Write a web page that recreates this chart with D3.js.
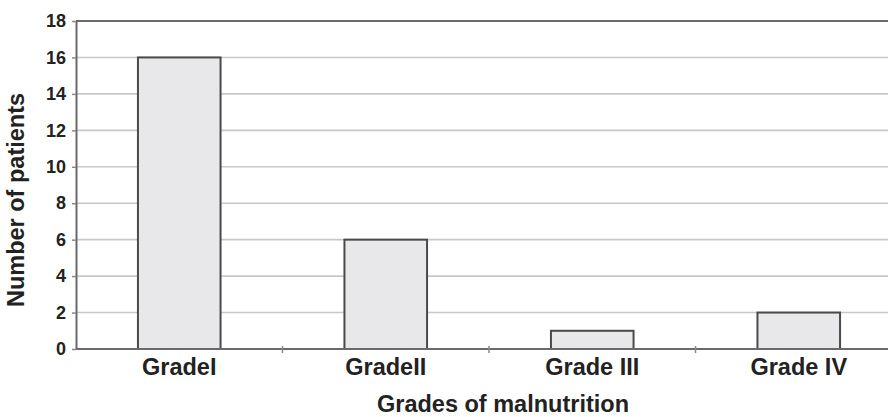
<!DOCTYPE html>
<html>
<head>
<meta charset="utf-8">
<script src="https://cdn.jsdelivr.net/npm/d3@7"></script>
<style>
  body { margin: 0; background: #fff; }
  text { font-family: "Liberation Sans", Arial, sans-serif; font-weight: bold; fill: #222; }
</style>
</head>
<body>
<svg id="chart"></svg>
<script>
let width = 888;
let height = 417;
let margin = {top: 21, right: -14, bottom: 68, left: 76};

// data
const grades = ['GradeI', 'GradeII', 'Grade III', 'Grade IV'];
const patients = [16, 6, 1, 2];
const yTicks = [0, 2, 4, 6, 8, 10, 12, 14, 16, 18];

let svg = d3.select('#chart')
  .attr('width', width)
  .attr('height', height);

let x = d3.scaleBand()
  .domain(grades)
  .range([margin.left, width - margin.right])
  .paddingInner(0.6)
  .paddingOuter(0.3);

let y = d3.scaleLinear()
  .domain([0, 18])
  .range([height - margin.bottom, margin.top]);

// gridlines
svg.append('g')
  .selectAll('line')
  .data(yTicks.slice(1, -1))
  .enter()
  .append('line')
    .attr('x1', margin.left)
    .attr('x2', width - margin.right)
    .attr('y1', d => y(d))
    .attr('y2', d => y(d))
    .attr('stroke', '#c8c8c8')
    .attr('stroke-width', 1.6);

// top border
svg.append('line')
  .attr('x1', margin.left)
  .attr('x2', width - margin.right)
  .attr('y1', y(18))
  .attr('y2', y(18))
  .attr('stroke', '#6a6a6a')
  .attr('stroke-width', 2);

// bars
svg.append('g')
  .selectAll('rect')
  .data(patients)
  .enter()
  .append('rect')
    .attr('x', (d, i) => x(grades[i]))
    .attr('y', d => y(d))
    .attr('width', x.bandwidth())
    .attr('height', d => y(0) - y(d))
    .attr('fill', '#e8e8ea')
    .attr('stroke', '#4a4a4a')
    .attr('stroke-width', 2);

// y axis
let yAxis = svg.append('g')
  .attr('transform', `translate(${margin.left},0)`)
  .call(d3.axisLeft(y).tickValues(yTicks).tickSize(4).tickPadding(6).tickSizeOuter(0));
yAxis.select('.domain').attr('stroke', '#6a6a6a').attr('stroke-width', 2);
yAxis.selectAll('.tick line').attr('stroke', '#888').attr('stroke-width', 1.5);
yAxis.selectAll('.tick text')
  .attr('font-size', 18)
  .attr('font-family', '"Liberation Sans", Arial, sans-serif')
  .attr('font-weight', 'bold')
  .attr('fill', '#222');

// x axis: ticks sit between categories
let xAxis = svg.append('g')
  .attr('transform', `translate(0,${y(0)})`);
xAxis.append('line')
  .attr('x1', margin.left)
  .attr('x2', width - margin.right)
  .attr('stroke', '#6a6a6a')
  .attr('stroke-width', 2);
xAxis.selectAll('.sep')
  .data(grades.slice(1))
  .enter()
  .append('line')
    .attr('class', 'sep')
    .attr('x1', d => x(d) - x.step() * x.paddingOuter())
    .attr('x2', d => x(d) - x.step() * x.paddingOuter())
    .attr('y1', -3)
    .attr('y2', 4)
    .attr('stroke', '#888')
    .attr('stroke-width', 1.5);
xAxis.selectAll('.lbl')
  .data(grades)
  .enter()
  .append('text')
    .attr('class', 'lbl')
    .attr('x', d => x(d) + x.bandwidth() / 2)
    .attr('y', 26)
    .attr('text-anchor', 'middle')
    .attr('font-size', 23.5)
    .text(d => d);

// axis titles
svg.append('text')
  .attr('x', 503)
  .attr('y', 412)
  .attr('text-anchor', 'middle')
  .attr('font-size', 23.5)
  .text('Grades of malnutrition');

svg.append('text')
  .attr('transform', 'translate(24,200) rotate(-90)')
  .attr('text-anchor', 'middle')
  .attr('font-size', 23.5)
  .text('Number of patients');
</script>
</body>
</html>
